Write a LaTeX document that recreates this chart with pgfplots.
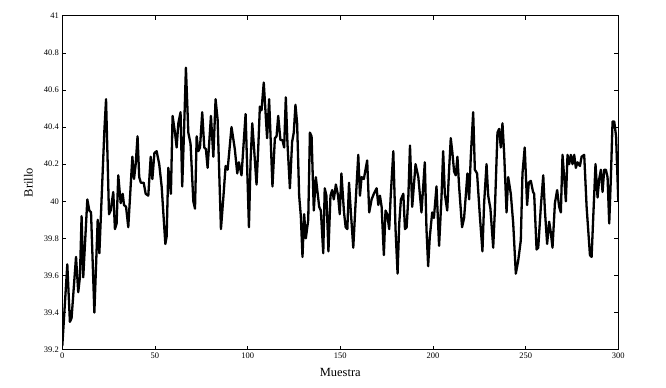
\documentclass[border=0pt]{standalone}
\usepackage{pgfplots}
\pgfplotsset{compat=1.18}
\usepackage{fontspec}
\setmainfont{Liberation Serif}
\begin{document}
\begin{tikzpicture}
\begin{axis}[
  scale only axis,
  width=556bp, height=334bp,
  xmin=0, xmax=300, ymin=39.2, ymax=41,
  xtick={0,50,100,150,200,250,300},
  ytick={39.2,39.4,39.6,39.8,40,40.2,40.4,40.6,40.8,41},
  tick align=inside,
  major tick length=4bp,
  tick style={black, line width=0.6bp},
  axis line style={black, line width=0.9bp},
  ticklabel style={font=\fontsize{8.5}{10}\selectfont},
  /pgf/number format/.cd, fixed, precision=1, assume math mode=true,
  /pgfplots/.cd,
  xlabel={Muestra}, ylabel={Brillo},
  every axis x label/.style={at={(axis description cs:0.5,-0.069)}, anchor=center, font=\fontsize{12.5}{14}\selectfont},
  every axis y label/.style={at={(axis description cs:-0.061,0.5)}, rotate=89.9, anchor=center, font=\fontsize{12.5}{14}\selectfont},
]
\addplot[black, line width=2.3bp, line join=round] coordinates {
(0,39.22)(2.7,39.66)(4.1,39.35)(5,39.37)(7.4,39.70)(8.6,39.51)(9.5,39.59)(10.4,39.92)
(11.3,39.59)(13.5,40.01)(14.6,39.95)(15.5,39.94)(17.3,39.40)(19.1,39.90)(20,39.72)
(22.7,40.38)(23.6,40.55)(25.2,39.93)(26.1,39.95)(27.5,40.05)(28.4,39.85)(29.3,39.88)
(30.2,40.14)(31.5,39.99)(32.6,40.04)(33.3,39.98)(34.4,39.97)(35.6,39.86)(37.8,40.24)
(38.7,40.12)(39.6,40.20)(40.6,40.35)(41.5,40.13)(42.4,40.10)(43.9,40.10)(45,40.04)
(46.4,40.03)(47.7,40.24)(48.6,40.12)(49.7,40.26)(50.9,40.27)(52.3,40.20)(53.6,40.08)
(55.6,39.77)(56.3,39.81)(57.2,40.18)(58.6,40.04)(59.5,40.46)(60.8,40.37)(61.7,40.29)
(62.6,40.42)(63.8,40.48)(64.7,40.08)(65.6,40.35)(66.7,40.72)(68,40.37)(69.2,40.31)
(70.7,40.00)(71.6,39.96)(72.5,40.35)(73.4,40.27)(74.3,40.29)(75.5,40.48)(76.6,40.29)
(77.5,40.28)(78.4,40.18)(80.2,40.46)(81.5,40.24)(82.7,40.55)(83.8,40.44)(85.6,39.85)
(86.9,40.02)(88.1,40.19)(89.2,40.17)(91.3,40.40)(93.1,40.28)(94.4,40.15)(95.3,40.21)
(96.7,40.14)(98.9,40.47)(100.7,39.86)(101.6,40.22)(102.5,40.42)(103.5,40.28)(104.8,40.09)
(105.7,40.28)(106.6,40.51)(107.5,40.49)(108.7,40.64)(109.6,40.49)(110.5,40.34)(111.6,40.55)
(113.4,40.08)(114.7,40.34)(115.6,40.35)(116.5,40.46)(117.7,40.33)(118.8,40.33)(119.7,40.29)
(120.6,40.56)(121.5,40.31)(122.8,40.07)(124,40.32)(124.9,40.37)(125.8,40.52)(126.7,40.42)
(127.8,40.03)(128.7,39.92)(129.6,39.70)(130.5,39.93)(131.4,39.80)(132.7,39.90)(133.6,40.37)
(134.5,40.35)(135.7,39.95)(136.8,40.13)(137.7,40.05)(138.6,39.97)(139.5,39.95)(140.8,39.72)
(141.6,40.07)(142.5,40.03)(143.6,39.73)(144.7,40.03)(145.6,40.06)(146.5,40.01)(147.6,40.09)
(148.8,40.03)(149.7,39.93)(150.6,40.15)(152,39.94)(152.9,39.86)(153.8,39.85)(154.7,40.10)
(155.7,39.94)(157,39.75)(158.3,40.00)(159.7,40.25)(160.6,40.03)(161.5,40.13)(162.7,40.12)
(164.5,40.22)(165.6,39.94)(166.9,40.01)(168.1,40.04)(169.6,40.07)(170.5,39.98)(171.4,40.03)
(172.3,39.97)(173.5,39.71)(174.4,39.95)(175.3,39.93)(176.4,39.85)(177.1,40.01)(178.6,40.27)
(179.8,39.85)(180.9,39.61)(181.8,39.88)(182.7,40.01)(184,40.04)(184.9,39.85)(185.8,39.86)
(186.7,40.02)(187.6,40.30)(188.8,39.97)(190.6,40.20)(192.1,40.13)(193.8,39.94)(195.6,40.21)
(196.5,39.85)(197.4,39.65)(198.3,39.81)(199.6,39.94)(200.5,39.91)(201.9,40.08)(203.3,39.76)
(204.6,40.02)(205.5,40.27)(206.4,40.04)(207.7,39.95)(208.6,40.15)(209.6,40.34)(210.5,40.26)
(211.4,40.16)(212.3,40.14)(213.2,40.24)(214.1,40.08)(215.7,39.86)(216.8,39.91)(217.7,40.03)
(218.6,40.15)(219.5,40.01)(220.4,40.24)(221.7,40.48)(222.6,40.17)(223.8,40.15)(225.3,39.92)
(226.7,39.73)(227.6,39.99)(228.9,40.20)(229.8,40.03)(231,39.96)(232.5,39.75)(233.4,39.95)
(234.8,40.37)(235.7,40.39)(236.6,40.29)(237.5,40.42)(238.4,40.26)(239.7,39.94)(240.6,40.13)
(242,40.04)(243.3,39.88)(244.7,39.61)(246,39.68)(247.4,39.79)(248.3,40.15)(249.5,40.29)
(250.8,39.98)(251.7,40.10)(252.8,40.11)(254,40.05)(254.6,40.04)(255.9,39.74)(256.8,39.75)
(258.2,39.97)(259.5,40.14)(260.4,39.95)(261.6,39.77)(262.7,39.89)(263.6,39.83)(264.5,39.75)
(265.8,39.99)(267,40.06)(268.1,39.97)(269,39.94)(269.9,40.25)(270.8,40.13)(271.7,40.00)
(272.6,40.25)(273.5,40.20)(274.4,40.25)(275.3,40.20)(276.2,40.25)(277.1,40.18)(278,40.21)
(279.3,40.19)(280.2,40.24)(281.6,40.25)(282.9,39.97)(284.7,39.71)(285.6,39.70)(286.5,39.92)
(287.7,40.20)(288.8,40.02)(289.7,40.12)(290.6,40.17)(291.5,40.05)(292.4,40.17)(293.3,40.17)
(294.2,40.13)(295.1,39.88)(296,40.13)(296.9,40.43)(297.8,40.43)(298.8,40.35)(300,40.00)
};
\end{axis}
\path (-62.3bp,-38bp) rectangle (603.7bp,349.7bp);
\end{tikzpicture}
\end{document}
